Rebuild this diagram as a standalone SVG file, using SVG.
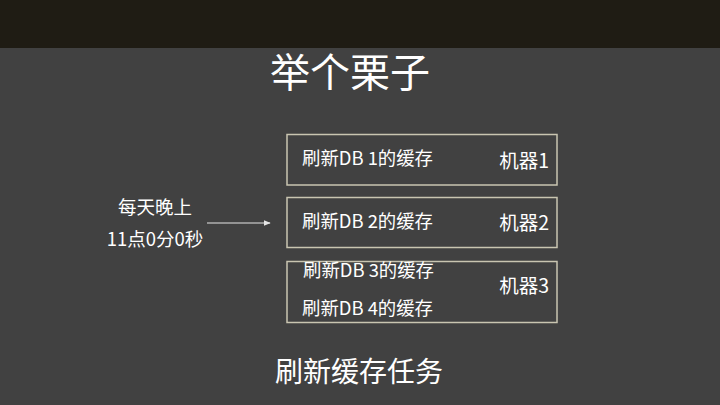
<svg xmlns="http://www.w3.org/2000/svg" width="720" height="405" viewBox="0 0 720 405">
<defs>
<style>
text{font-family:"Noto Sans CJK SC","Noto Sans",sans-serif;fill:#ffffff}
.box{fill:none;stroke:#c9c5b1;stroke-width:1.5}
.t{font-size:18.4px}
.m{font-size:19.5px;text-anchor:end}
.c{text-anchor:middle}
.l{font-size:18.5px}
</style>
<marker id="ah" viewBox="0 0 10 10" refX="9" refY="5" markerWidth="6" markerHeight="6" orient="auto"><path d="M0,1 L10,5 L0,9 z" fill="#e6e6e6"/></marker>
</defs>
<rect width="720" height="405" fill="#414141"/>
<rect width="720" height="48" fill="#1f1c14"/>
<text x="350" y="87" class="c" font-size="40">举个栗子</text>
<g id="trigger">
<text x="155" y="214" class="c l">每天晚上</text>
<text x="155" y="246" class="c l">11点0分0秒</text>
</g>
<g id="connectors">
<line x1="207" y1="223" x2="270" y2="223" stroke="#e6e6e6" stroke-width="1.2" marker-end="url(#ah)"/>
</g>
<g id="machine1">
<rect class="box" x="287" y="134.5" width="270" height="50.5"/>
<text x="302" y="165" class="t">刷新DB 1的缓存</text>
<text x="549" y="168" class="m">机器1</text>
</g>
<g id="machine2">
<rect class="box" x="287" y="197.5" width="270" height="50"/>
<text x="302" y="228" class="t">刷新DB 2的缓存</text>
<text x="549" y="230" class="m">机器2</text>
</g>
<g id="machine3">
<rect class="box" x="287" y="261.5" width="270" height="61"/>
<text x="303" y="277" class="t">刷新DB 3的缓存</text>
<text x="302" y="315" class="t">刷新DB 4的缓存</text>
<text x="549" y="293" class="m">机器3</text>
</g>
<text x="359" y="382" class="c" font-size="28">刷新缓存任务</text>
</svg>
